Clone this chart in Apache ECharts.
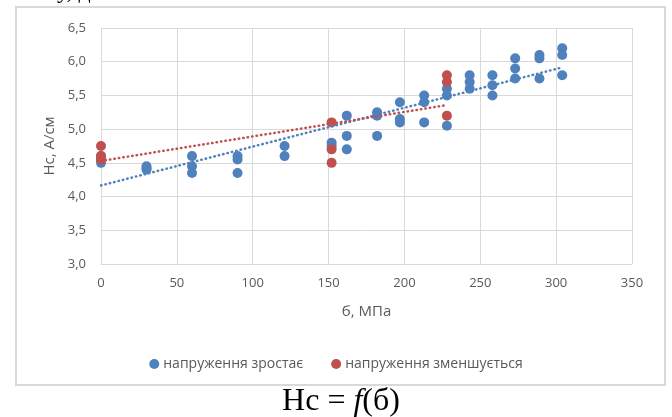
<!DOCTYPE html>
<html>
<head>
<meta charset="utf-8">
<script src="https://cdn.jsdelivr.net/npm/echarts@6/dist/echarts.min.js"></script>
<style>
  html, body { margin: 0; padding: 0; background: #fff; }
  #echarts { width: 672px; height: 417px; }
</style>
</head>
<body>
<div id="echarts"></div>
<script>
// напруження зростає (blue)
var upX = [0, 0, 0, 30, 30, 30, 60, 60, 60, 90, 90, 90, 121, 121, 152, 152,
    162, 162, 162, 182, 182, 182, 197, 197, 197, 213, 213, 213,
    228, 228, 228, 243, 243, 243, 258, 258, 258, 273, 273, 273,
    289, 289, 289, 304, 304, 304];
var upY = [4.5, 4.55, 4.6, 4.45, 4.4, 4.42, 4.6, 4.45, 4.35, 4.6, 4.55, 4.35, 4.75, 4.6, 4.8, 4.75,
    5.2, 4.9, 4.7, 5.25, 5.2, 4.9, 5.4, 5.15, 5.1, 5.5, 5.4, 5.1,
    5.6, 5.5, 5.05, 5.8, 5.7, 5.6, 5.8, 5.65, 5.5, 6.05, 5.9, 5.75,
    6.1, 6.05, 5.75, 6.2, 6.1, 5.8];
// напруження зменшується (red)
var downX = [0, 0, 0, 152, 152, 152, 228, 228, 228];
var downY = [4.75, 4.6, 4.55, 5.1, 4.7, 4.5, 5.8, 5.7, 5.2];

var xTicks = { min: 0, max: 350, interval: 50 };
var yTicks = { min: 3, max: 6.5, interval: 0.5 };

function pairs(xs, ys) {
    return xs.map(function (x, i) { return [x, ys[i]]; });
}
// linear trend like in Excel
function trend(xs, ys) {
    var n = xs.length, sx = 0, sy = 0, sxy = 0, sxx = 0;
    for (var i = 0; i < n; i++) {
        sx += xs[i]; sy += ys[i]; sxy += xs[i] * ys[i]; sxx += xs[i] * xs[i];
    }
    var k = (n * sxy - sx * sy) / (n * sxx - sx * sx);
    var b = (sy - k * sx) / n;
    var x0 = Math.min.apply(null, xs), x1 = Math.max.apply(null, xs);
    return [[x0, k * x0 + b], [x1, k * x1 + b]];
}

var blue = '#4f81bd', red = '#c0504d';
var grey = '#595959', gridC = '#d9d9d9';
var font = 'Open Sans';

var option = {
    animation: false,
    grid: { left: 101, right: 40, top: 28, bottom: 153 },
    xAxis: {
        type: 'value',
        min: xTicks.min, max: xTicks.max, interval: xTicks.interval,
        name: 'б, МПа', nameLocation: 'middle', nameGap: 40,
        nameTextStyle: { color: grey, fontSize: 15, fontFamily: font },
        axisLine: { show: true, lineStyle: { color: gridC } },
        axisTick: { show: false },
        axisLabel: { color: grey, fontSize: 13, fontFamily: font, margin: 13 },
        splitLine: { lineStyle: { color: gridC } }
    },
    yAxis: {
        type: 'value',
        min: yTicks.min, max: yTicks.max, interval: yTicks.interval,
        name: 'Hc, A/см', nameLocation: 'middle', nameGap: 42,
        nameTextStyle: { color: grey, fontSize: 15, fontFamily: font },
        axisLine: { show: true, lineStyle: { color: gridC } },
        axisTick: { show: false },
        axisLabel: {
            color: grey, fontSize: 13, fontFamily: font, margin: 15,
            formatter: function (v) { return v.toFixed(1).replace('.', ','); }
        },
        splitLine: { lineStyle: { color: gridC } }
    },
    legend: {
        top: 352, left: 'center',
        data: ['напруження зростає', 'напруження зменшується'],
        icon: 'circle', itemWidth: 10, itemHeight: 10, itemGap: 28,
        textStyle: { color: grey, fontSize: 14, fontFamily: font, padding: [0, 0, 0, -1] }
    },
    graphic: [
        { type: 'rect', shape: { x: 16, y: 7, width: 649, height: 378 },
          style: { fill: 'none', stroke: gridC, lineWidth: 2 }, silent: true },
        { type: 'text', x: 341, y: 402,
          style: {
              text: '{a|Hc = }{b|f}{a|(б)}', align: 'center', verticalAlign: 'middle',
              rich: {
                  a: { fontFamily: 'Liberation Serif', fontSize: 32, fill: '#000' },
                  b: { fontFamily: 'Liberation Serif', fontSize: 32, fontStyle: 'italic', fill: '#000' }
              }
          } },
        { type: 'text', x: 57, y: 4,
          style: { text: 'у, д', fontFamily: 'Liberation Serif', fontSize: 24, fill: '#000',
                   verticalAlign: 'bottom' } }
    ],
    series: [
        {
            name: 'напруження зростає', type: 'scatter', symbolSize: 10,
            itemStyle: { color: blue, opacity: 1 },
            data: pairs(upX, upY)
        },
        {
            name: 'напруження зменшується', type: 'scatter', symbolSize: 10,
            itemStyle: { color: red, opacity: 1 },
            data: pairs(downX, downY)
        },
        {
            type: 'line', symbol: 'none', z: 3,
            lineStyle: { color: blue, width: 2.5, type: [0.5, 4], cap: 'round' },
            data: trend(upX, upY)
        },
        {
            type: 'line', symbol: 'none', z: 3,
            lineStyle: { color: red, width: 2.5, type: [0.5, 4], cap: 'round' },
            data: trend(downX, downY)
        }
    ]
};

var mychart = echarts.init(document.getElementById('echarts'));
mychart.setOption(option);
</script>
</body>
</html>
